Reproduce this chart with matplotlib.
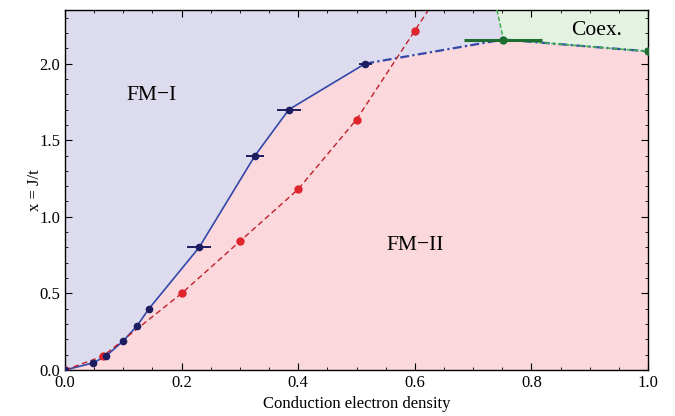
import numpy as np
import matplotlib.pyplot as plt
from matplotlib.ticker import MultipleLocator

plt.rcParams['font.family'] = ['Liberation Serif', 'DejaVu Serif']

# FM-I / FM-II boundary (blue points with x error bars)
n_blue = [0.0, 0.048, 0.07, 0.1, 0.124, 0.144, 0.23, 0.326, 0.384, 0.515]
x_blue = [0.0, 0.046, 0.09, 0.19, 0.29, 0.40, 0.80, 1.40, 1.70, 2.00]
err_blue = [0, 0, 0, 0, 0, 0, 0.021, 0.016, 0.02, 0.011]

# dash-dot continuation of the boundary
n_dd = [0.515, 0.752, 1.0]
x_dd = [2.00, 2.157, 2.08]

# red points (dashed curve)
n_red = [0.0, 0.065, 0.2, 0.3, 0.4, 0.5, 0.6]
x_red = [0.0, 0.09, 0.50, 0.84, 1.18, 1.635, 2.215]
n_red_end, x_red_end = 0.625, 2.36

# coexistence region
n_green = [0.752, 1.0]
x_green = [2.157, 2.08]
err_green = [0.067, 0]
n_green_top = 0.741

ymax = 2.35

fig = plt.figure(figsize=(6.75, 4.16), dpi=100)
ax = fig.add_axes([0.0963, 0.1106, 0.8637, 0.8654])
ax.set_xlim(0, 1.0)
ax.set_ylim(0, ymax)

lav = '#dcdcee'
pink = '#fad8dc'
green_fill = '#e3f2e1'
ax.set_facecolor(lav)

bnd_n = n_blue + n_dd[1:]
bnd_x = x_blue + x_dd[1:]
ax.fill_between(bnd_n, 0, bnd_x, color=pink, lw=0, zorder=0)
ax.fill([n_green_top] + n_dd[1:] + [1.0], [ymax] + x_dd[1:] + [ymax],
        color=green_fill, lw=0, zorder=0)

blue_line = '#3447a8'
navy = '#1c1c60'
red = '#e0242c'
dark_red = '#c0202a'
green = '#1e6e32'
green_l = '#3cb44b'

ax.plot(n_blue, x_blue, color=blue_line, lw=1.2, zorder=2)
ax.plot(n_dd, x_dd, color=blue_line, lw=1.6, ls=(0, (4, 1.5, 1, 1.5)), zorder=2)
ax.plot([n_green_top, n_green[0]], [ymax, x_green[0]], color=green_l, lw=1.1, ls=(0, (3, 1.5)), zorder=3)
ax.plot(n_dd[1:], x_dd[1:], color=green_l, lw=1.1, ls=(0, (3, 1.5)), zorder=3)

ax.plot(n_red + [n_red_end], x_red + [x_red_end], color=dark_red, lw=1.0, ls=(0, (4, 2.5)), zorder=2)
ax.plot(n_red, x_red, 'o', color=red, ms=5, zorder=4)

ax.errorbar(n_blue, x_blue, xerr=err_blue, fmt='o', color=navy, ms=4.5,
            elinewidth=1.4, capsize=0, zorder=5)
ax.errorbar(n_green, x_green, xerr=err_green, fmt='o', color=green, ms=5,
            elinewidth=2.2, capsize=0, zorder=5)

ax.text(0.149, 1.79, 'FM\u2212I', fontsize=15.5, ha='center', va='center')
ax.text(0.6, 0.81, 'FM\u2212II', fontsize=15.5, ha='center', va='center')
ax.text(0.911, 2.215, 'Coex.', fontsize=15.5, ha='center', va='center')

ax.set_xlabel('Conduction electron density', fontsize=12)
ax.set_ylabel('x = J/t', fontsize=12, labelpad=-3)

ax.xaxis.set_major_locator(MultipleLocator(0.2))
ax.xaxis.set_minor_locator(MultipleLocator(0.05))
ax.yaxis.set_major_locator(MultipleLocator(0.5))
ax.yaxis.set_minor_locator(MultipleLocator(0.1))
ax.tick_params(which='both', direction='in', top=True, right=True, labelsize=12)
ax.tick_params(which='major', length=5)
ax.tick_params(which='minor', length=2.5)
for s in ax.spines.values():
    s.set_linewidth(1.0)

fig.savefig('out.png', dpi=100)
